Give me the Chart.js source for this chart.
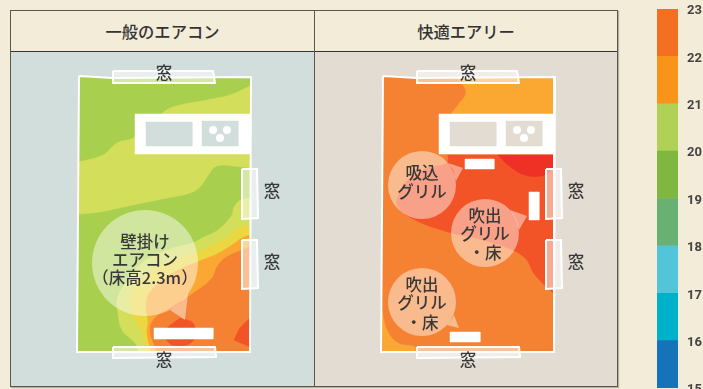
<!DOCTYPE html>
<html lang="ja">
<head>
    <meta charset="UTF-8">
    <title>一般のエアコン / 快適エアリー</title>
    <script src="https://cdn.jsdelivr.net/npm/chart.js"></script>
    <style>
        body {
            margin: 0;
            width: 703px;
            height: 389px;
            overflow: hidden;
            position: relative;
            background-color: #f3ecd9;
            font-family: "Noto Sans CJK JP", sans-serif;
        }
        #frame {
            position: absolute;
            left: 10px;
            top: 10px;
            width: 606px;
            height: 375px;
            border: 1px solid #5a5750;
            box-shadow: 1px 1px 1px rgba(0,0,0,0.25);
        }
        #divider {
            position: absolute;
            left: 314px;
            top: 11px;
            width: 1px;
            height: 375px;
            background: #5a5750;
        }
        .head {
            position: absolute;
            top: 11px;
            height: 40px;
            line-height: 40px;
            text-align: center;
            font-size: 16.3px;
            font-weight: 500;
            color: #333;
            border-bottom: 1px solid #333;
        }
        .panel { position: absolute; top: 52px; height: 334px; }
        canvas { position: absolute; }
    </style>
</head>
<body>
    <div id="frame"></div>
    <div class="head" style="left:11px;width:303px;">一般のエアコン</div>
    <div class="head" style="left:315px;width:302px;">快適エアリー</div>
    <div class="panel" style="left:11px;width:303px;background:#d2dedc;"></div>
    <div class="panel" style="left:315px;width:302px;background:#e2dcd3;"></div>
    <div id="divider"></div>
    <canvas id="leftRoom" width="304" height="334" style="left:11px;top:52px;"></canvas>
    <canvas id="rightRoom" width="302" height="334" style="left:315px;top:52px;"></canvas>
    <canvas id="scaleBar" width="46" height="389" style="left:657px;top:0;"></canvas>

    <script>
        // temperature legend
        const tempStops = [15, 16, 17, 18, 19, 20, 21, 22, 23];
        const tempColors = ['#1574b9', '#00b2c9', '#53c5d9', '#69b172', '#7fb741', '#afd155', '#f9941b', '#f36f21'];

        // zone colours
        const green = '#a9cf4f', lime = '#d3de5b', yellow = '#ebd740', amber = '#fba832',
              orange = '#f58232', hot = '#f35427', red = '#ef3024';

        // room, shared by both plans
        const roomOutline = [[79,76],[113,78],[251,77],[250,352],[77,352],[79,76]];
        const kitchen = [[135,114],[250,114],[250,154],[135,154],[135,114]];
        const sink = [[146,122],[192,122],[192,146],[146,146],[146,122]];
        const stove = [[202,121],[238,121],[238,146],[202,146],[202,121]];
        const burners = [[213,130],[227,130],[220,138]];
        const windows = [
            [[113,71],[213,71],[215,83],[113,83],[113,71]],
            [[242,169],[257,169],[258,218],[242,219],[242,169]],
            [[242,240],[257,240],[258,288],[242,289],[242,240]],
            [[113,347],[215,347],[216,357],[113,358],[113,347]]
        ];

        // left plan: wall unit
        const leftLime = [[250,86],[250,86],[230,95],[207,100],[173,107],[160,115],[135,137],[117,143],[103,155],[79,162],[79,162],[79,214],[79,214],[100,212],[133,205],[167,198],[190,193],[200,187],[207,177],[217,166],[241,167],[250,168],[250,168],[250,86],[250,86]];
        const leftLime2 = [[250,199],[250,199],[242,199],[234,207],[232,215],[218,230],[202,238],[192,243],[173,248],[143,262],[123,287],[117,300],[118,313],[122,330],[135,343],[139,352],[139,352],[250,352],[250,352],[250,199],[250,199]];
        const leftYellow = [[250,225],[250,225],[238,228],[228,237],[208,247],[198,252],[180,258],[157,267],[133,288],[130,303],[133,317],[142,333],[147,352],[147,352],[250,352],[250,352],[250,225],[250,225]];
        const leftAmber = [[250,235],[250,235],[242,238],[232,245],[215,255],[202,260],[173,273],[150,292],[146,307],[148,320],[147,333],[151,352],[151,352],[250,352],[250,352],[250,235],[250,235]];
        const leftOrange = [[250,247],[250,247],[242,250],[225,258],[217,267],[212,278],[195,292],[170,308],[155,318],[150,330],[157,352],[157,352],[250,352],[250,352],[250,247],[250,247]];
        const leftHotA = [[180,318],[193,323],[195,333],[192,342],[180,346],[168,342],[166,330],[180,318]];
        const leftHotB = [[250,318],[250,318],[240,328],[234,340],[234,340],[250,347],[250,347],[250,318],[250,318]];
        const leftVents = [[[154,328],[213,328],[213,339],[154,339],[154,328]]];
        const leftBubbles = [{x: 145, y: 263, r: 53}];
        const leftTails = [[[170,310],[180,303],[188,293],[185,320],[170,310]]];
        const leftLabels = [
            ['窓',164,73],['窓',164,360],['窓',272,191],['窓',272,262],
            ['壁掛け',145,242],['エアコン',145,260],['（床高2.3m）',145,278]
        ];

        // right plan: floor grilles
        const rightAmberTop = [[153,78],[153,78],[162,92],[154,105],[146,115],[146,115],[250,115],[250,115],[250,78],[250,78],[153,78]];
        const rightAmberLow = [[78,310],[78,310],[83,330],[94,343],[111,347],[111,352],[111,352],[77,352],[77,352],[78,310]];
        const rightHot = [[144,155],[144,155],[143,163],[124,168],[104,180],[94,197],[94,207],[111,220],[144,232],[171,238],[201,247],[221,258],[231,275],[248,292],[248,292],[250,292],[250,155],[250,155],[144,155]];
        const rightRed = [[194,155],[194,155],[204,165],[221,175],[241,175],[250,167],[250,167],[250,155],[250,155],[194,155]];
        const rightVents = [
            [[161,159],[190,159],[190,169],[161,169],[161,159]],
            [[225,192],[235,192],[235,220],[225,220],[225,192]],
            [[146,332],[176,332],[176,342],[146,342],[146,332]]
        ];
        const rightBubbles = [{x: 118, y: 185, r: 34}, {x: 181, y: 233, r: 34}, {x: 118, y: 302, r: 34}];
        const rightTails = [
            [[144,163],[149,170],[152,181],[159,168],[144,163]],
            [[206,210],[212,220],[215,230],[223,216],[206,210]],
            [[150,315],[147,320],[143,325],[155,328],[150,315]]
        ];
        const rightLabels = [
            ['窓',164,73],['窓',164,360],['窓',272,191],['窓',272,262],
            ['吸込',118,173],['グリル',118,192],
            ['吹出',181,216],['グリル',181,234],['・床',181,253],
            ['吹出',118,285],['グリル',118,303],['・床',118,323]
        ];

        function shape(points, color, tension) {
            return {
                data: points.map(p => ({x: p[0], y: p[1]})),
                showLine: true,
                fill: 'shape',
                backgroundColor: color,
                borderColor: color,
                borderWidth: color.startsWith('rgba') ? 0 : 0.5,
                pointRadius: 0,
                tension: tension
            };
        }

        function outline(points, fillColor) {
            return {
                data: points.map(p => ({x: p[0], y: p[1]})),
                showLine: true,
                fill: fillColor ? 'shape' : false,
                backgroundColor: fillColor || 'transparent',
                borderColor: '#fff',
                borderWidth: 2,
                pointRadius: 0,
                tension: 0
            };
        }

        function dots(list, color) {
            return {
                data: list,
                showLine: false,
                pointRadius: list.map(d => d.r),
                pointBackgroundColor: color,
                pointBorderWidth: 0
            };
        }

        // texts on the plan
        const labelPlugin = {
            id: 'planLabels',
            afterDraw(chart, args, opts) {
                const ctx = chart.ctx;
                ctx.save();
                ctx.font = '500 16.5px "Noto Sans CJK JP"';
                ctx.fillStyle = '#383838';
                ctx.textAlign = 'center';
                ctx.textBaseline = 'middle';
                opts.items.forEach(t => {
                    ctx.fillText(t[0], chart.scales.x.getPixelForValue(t[1]), chart.scales.y.getPixelForValue(t[2]));
                });
                ctx.restore();
            }
        };

        function drawPlan(id, xMax, wallColor, zones, vents, bubbles, tails, labels) {
            const layers = [
                ...zones,
                outline(roomOutline),
                shape(kitchen, '#ffffff', 0),
                shape(sink, wallColor, 0),
                shape(stove, wallColor, 0),
                dots(burners.map(b => ({x: b[0], y: b[1], r: 4})), '#fff'),
                ...windows.map(w => outline(w, 'rgba(255,255,255,0.5)')),
                ...vents.map(v => shape(v, '#ffffff', 0)),
                dots(bubbles, 'rgba(255,255,255,0.45)'),
                ...tails.map(t => shape(t, 'rgba(255,255,255,0.45)', 0))
            ];
            layers.forEach((l, i) => { l.order = layers.length - i; });
            return new Chart(document.getElementById(id), {
                type: 'scatter',
                data: {datasets: layers},
                options: {
                    responsive: false,
                    animation: false,
                    layout: {padding: 0, autoPadding: false},
                    plugins: {legend: {display: false}, tooltip: {enabled: false}, planLabels: {items: labels}},
                    scales: {
                        x: {type: 'linear', min: 11, max: xMax, display: false},
                        y: {type: 'linear', min: 52, max: 386, reverse: true, display: false}
                    }
                },
                plugins: [labelPlugin]
            });
        }

        drawPlan('leftRoom', 315, '#d2dedc', [
            shape(roomOutline, green, 0),
            shape(leftLime, lime, 0.4),
            shape(leftLime2, lime, 0.4),
            shape(leftYellow, yellow, 0.4),
            shape(leftAmber, amber, 0.4),
            shape(leftOrange, orange, 0.4),
            shape(leftHotA, hot, 0.4),
            shape(leftHotB, hot, 0.3)
        ], leftVents, leftBubbles, leftTails, leftLabels);

        drawPlan('rightRoom', 313, '#e2dcd3', [
            shape(roomOutline, orange, 0),
            shape(rightAmberTop, amber, 0.4),
            shape(rightAmberLow, amber, 0.4),
            shape(rightHot, hot, 0.4),
            shape(rightRed, red, 0.4)
        ], rightVents, rightBubbles, rightTails, rightLabels);

        // colour legend
        new Chart(document.getElementById('scaleBar'), {
            type: 'bar',
            data: {
                labels: ['temp'],
                datasets: tempColors.map((c, i) => ({
                    data: [[tempStops[i], tempStops[i + 1]]],
                    backgroundColor: c,
                    barPercentage: 1,
                    categoryPercentage: 1,
                    grouped: false
                }))
            },
            options: {
                responsive: false,
                animation: false,
                layout: {padding: {top: 9, bottom: 1, left: 0, right: 0}, autoPadding: false},
                plugins: {legend: {display: false}, tooltip: {enabled: false}},
                scales: {
                    x: {display: false},
                    y: {
                        position: 'right',
                        min: 15,
                        max: 23,
                        afterFit(scale) {
                            scale.width = 25;
                            scale.paddingTop = 0;
                            scale.paddingBottom = 0;
                        },
                        grid: {display: false, drawTicks: false},
                        border: {display: false},
                        ticks: {
                            stepSize: 1,
                            padding: 9,
                            labelOffset: 2,
                            color: '#444',
                            font: {family: 'Roboto', size: 13, weight: 'bold'}
                        }
                    }
                }
            }
        });
    </script>
</body>
</html>
